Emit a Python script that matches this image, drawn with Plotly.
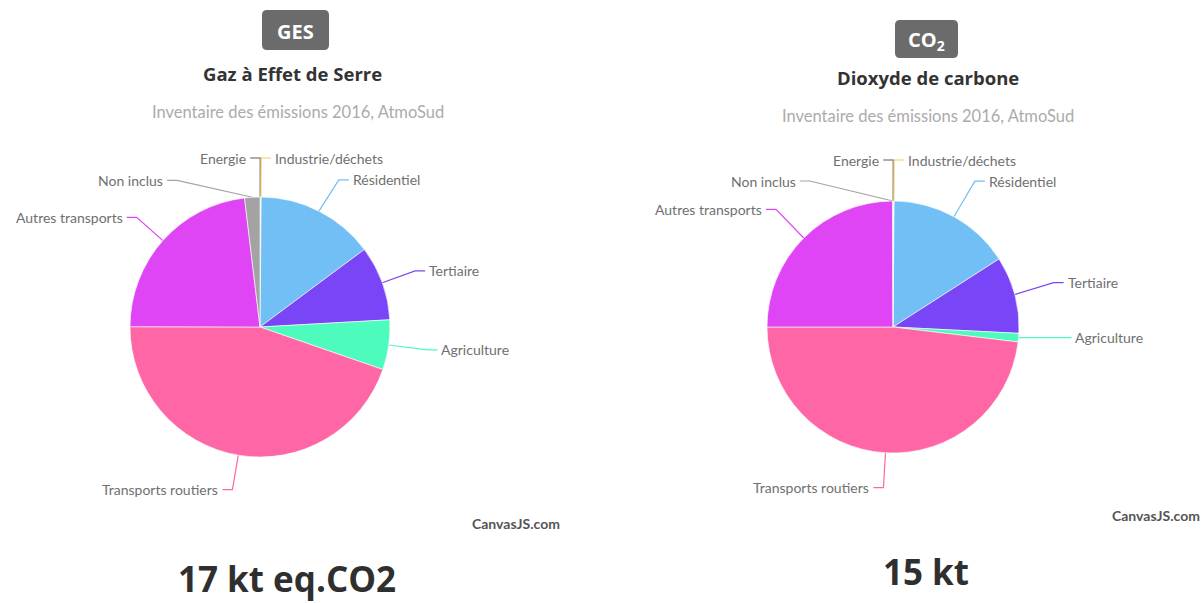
import math
import plotly.graph_objects as go

# ---------------- data ----------------
categories = ["Energie", "Industrie/déchets", "Résidentiel", "Tertiaire", "Agriculture",
              "Transports routiers", "Autres transports", "Non inclus"]
ges_values = [0.05, 0.1, 14.7, 9.3, 6.2, 44.8, 23.1, 1.9]
co2_values = [0.05, 0.1, 15.8, 9.9, 1.1, 48.2, 25.0, 0.05]
ges_total_label = "17 kt eq.CO2"
co2_total_label = "15 kt"

# ---------------- style ----------------
slice_colors = ["#5f5f4f", "#f5c46e", "#71bff5", "#7a45f6", "#4dfcbd",
                "#ff66a6", "#e045f5", "#a3a3a3"]
W, H = 1202, 603
LABEL_FONT = "Lato"
TITLE_FONT = "Open Sans"

charts = [
    dict(values=ges_values, cx=260, cy=327, r=130, ext=35,
         badge="GES", badge_box=(262, 10, 329, 50),
         title="Gaz à Effet de Serre", title_xy=(292, 73),
         sub_xy=(298, 112), total=ges_total_label, total_xy=(287, 578),
         credit_xy=(516, 523),
         place={"Energie": dict(side=-1, dy=-4),
                "Industrie/déchets": dict(side=1, dy=-4),
                "Non inclus": dict(side=-1, dx=-73, dy=18),
                "Résidentiel": dict(dx=4),
                "Agriculture": dict(dx=4)}),
    dict(values=co2_values, cx=893, cy=327, r=126, ext=35,
         badge="CO<sub>2</sub>", badge_box=(895, 20, 958, 58),
         title="Dioxyde de carbone", title_xy=(928, 77),
         sub_xy=(928, 116), total=co2_total_label, total_xy=(926, 571),
         credit_xy=(1156, 515),
         place={"Energie": dict(side=-1, dy=-6),
                "Industrie/déchets": dict(side=1, dy=-6),
                "Non inclus": dict(side=-1, dx=-83, dy=15),
                "Résidentiel": dict(dx=4, dy=-5),
                "Agriculture": dict(dx=8, dy=-3),
                "Tertiaire": dict(dx=5, dy=-3),
                "Autres transports": dict(dx=-3, dy=-4)}),
]

fig = go.Figure()
annotations = []
shapes = []

for ch in charts:
    vals = ch["values"]
    cx, cy, r = ch["cx"], ch["cy"], ch["r"]
    fig.add_trace(go.Pie(
        labels=categories, values=vals, sort=False, direction="clockwise",
        rotation=0, textinfo="none", hoverinfo="label+percent",
        marker=dict(colors=slice_colors, line=dict(color="rgba(255,255,255,0.6)", width=1)),
        domain=dict(x=[(cx - r) / W, (cx + r) / W], y=[1 - (cy + r) / H, 1 - (cy - r) / H]),
        showlegend=False,
    ))
    total = sum(vals)
    cum = 0.0
    for lab, v, col in zip(categories, vals, slice_colors):
        th = 2 * math.pi * (cum + v / 2) / total
        cum += v
        p = ch["place"].get(lab, {})
        sx, sy = math.sin(th), -math.cos(th)
        ex, ey = cx + r * sx, cy + r * sy
        R = r + ch["ext"]
        kx = cx + R * sx + p.get("dx", 0)
        ky = cy + R * sy + p.get("dy", 0)
        side = p.get("side", 1 if sx >= 0 else -1)
        hx = kx + side * 10
        fig.add_trace(go.Scatter(x=[ex, kx, hx], y=[ey, ky, ky], mode="lines",
                                 line=dict(color=col, width=1.2), hoverinfo="skip",
                                 showlegend=False, xaxis="x", yaxis="y"))
        annotations.append(dict(x=hx + side * 2, y=ky, xref="x", yref="y", text=lab,
                                showarrow=False, xanchor="left" if side > 0 else "right",
                                yanchor="middle",
                                font=dict(family=LABEL_FONT, size=14, color="#707070")))
    # badge
    x0, y0, x1, y1 = ch["badge_box"]
    rr = 5
    path = (f"M {x0+rr},{y0} L {x1-rr},{y0} Q {x1},{y0} {x1},{y0+rr} L {x1},{y1-rr} "
            f"Q {x1},{y1} {x1-rr},{y1} L {x0+rr},{y1} Q {x0},{y1} {x0},{y1-rr} "
            f"L {x0},{y0+rr} Q {x0},{y0} {x0+rr},{y0} Z")
    shapes.append(dict(type="path", path=path, xref="x", yref="y",
                       fillcolor="#6b6b6b", line=dict(width=0), layer="below"))
    annotations.append(dict(x=(x0 + x1) / 2, y=(y0 + y1) / 2 + 1, xref="x", yref="y",
                            text=f"<b>{ch['badge']}</b>", showarrow=False,
                            font=dict(family=TITLE_FONT, size=20, color="white")))
    annotations.append(dict(x=ch["title_xy"][0], y=ch["title_xy"][1], xref="x", yref="y",
                            text=f"<b>{ch['title']}</b>", showarrow=False,
                            font=dict(family=TITLE_FONT, size=18.5, color="#333333")))
    annotations.append(dict(x=ch["sub_xy"][0], y=ch["sub_xy"][1], xref="x", yref="y",
                            text="Inventaire des émissions 2016, AtmoSud", showarrow=False,
                            font=dict(family=LABEL_FONT, size=16.5, color="#ababab")))
    annotations.append(dict(x=ch["total_xy"][0], y=ch["total_xy"][1], xref="x", yref="y",
                            text=f"<b>{ch['total']}</b>", showarrow=False,
                            font=dict(family=TITLE_FONT, size=35, color="#2f2f2f")))
    annotations.append(dict(x=ch["credit_xy"][0], y=ch["credit_xy"][1], xref="x", yref="y",
                            text="<b>CanvasJS.com</b>", showarrow=False,
                            font=dict(family=LABEL_FONT, size=14, color="#555555")))

fig.update_layout(
    width=W, height=H, margin=dict(l=0, r=0, t=0, b=0),
    paper_bgcolor="white", plot_bgcolor="white",
    xaxis=dict(range=[0, W], domain=[0, 1], visible=False, fixedrange=True),
    yaxis=dict(range=[H, 0], domain=[0, 1], visible=False, fixedrange=True),
    annotations=annotations, shapes=shapes,
)
fig.write_html("out.html")
